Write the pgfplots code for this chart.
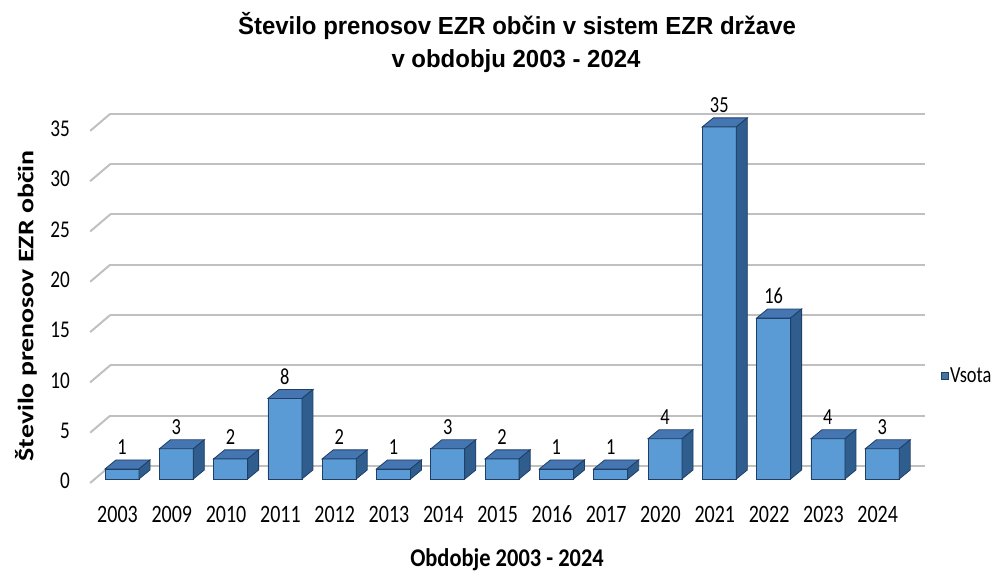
\documentclass[border=0pt]{standalone}
\usepackage{pgfplots}
\pgfplotsset{compat=1.18}
\usepackage{pgfplotstable}
\usepackage{fontspec}
\setmainfont{Carlito}[FakeStretch=0.8]
\newfontfamily\titlefont{Liberation Sans}[FakeStretch=0.97]
\newfontfamily\ylabfont{Carlito}[FakeStretch=1.25]
\newfontfamily\xlabfont{Carlito}[FakeStretch=0.88]

\definecolor{frontcol}{HTML}{5B9BD5}
\definecolor{topcol}{HTML}{4576B2}
\definecolor{sidecol}{HTML}{2F5E8E}
\definecolor{edgecol}{HTML}{1F3F66}
\definecolor{gridcol}{HTML}{C0C0C0}

% transfers per year
\pgfplotstableread{
idx year val
0  2003 1
1  2009 3
2  2010 2
3  2011 8
4  2012 2
5  2013 1
6  2014 3
7  2015 2
8  2016 1
9  2017 1
10 2020 4
11 2021 35
12 2022 16
13 2023 4
14 2024 3
}\datatable

% top and side faces of a 3d bar, drawn at the top front centre of the bar
\pgfdeclareplotmark{cubefaces}{%
  \pgfmathsetlengthmacro{\barh}{\rawy*10.06pt}%
  \pgfsetlinewidth{0.8pt}%
  \pgfsetstrokecolor{edgecol}%
  \pgfsetfillcolor{topcol}%
  \pgfpathmoveto{\pgfqpoint{-17pt}{0pt}}%
  \pgfpathlineto{\pgfqpoint{17pt}{0pt}}%
  \pgfpathlineto{\pgfqpoint{28pt}{9pt}}%
  \pgfpathlineto{\pgfqpoint{-6pt}{9pt}}%
  \pgfpathclose
  \pgfusepath{fill,stroke}%
  \pgfsetfillcolor{sidecol}%
  \pgfpathmoveto{\pgfqpoint{17pt}{0pt}}%
  \pgfpathlineto{\pgfqpoint{28pt}{9pt}}%
  \pgfpathlineto{\pgfpoint{28pt}{9pt-\barh}}%
  \pgfpathlineto{\pgfpoint{17pt}{-\barh}}%
  \pgfpathclose
  \pgfusepath{fill,stroke}%
}

\begin{document}
\begin{tikzpicture}
\path[use as bounding box] (0,0) rectangle (995pt,572pt);

\node[anchor=base, font=\titlefont\bfseries\fontsize{24.7pt}{30pt}\selectfont] at (517pt,537pt) {Število prenosov EZR občin v sistem EZR države};
\node[anchor=base, font=\titlefont\bfseries\fontsize{24.7pt}{30pt}\selectfont] at (516pt,504pt) {v obdobju 2003 - 2024};

\begin{axis}[
    at={(122pt,93pt)}, anchor=origin,
    x=54.3pt, y=10.06pt,
    xmin=-0.5, xmax=14.5,
    ymin=0, ymax=35,
    clip=false,
    axis line style={draw=none},
    major tick length=0pt,
    tick style={draw=none},
    xtick={0,...,14},
    xticklabels from table={\datatable}{year},
    ytick={0,5,...,35},
    /pgf/number format/assume math mode=true,
    xticklabel style={anchor=center, yshift=-35pt, xshift=-4.5pt, font=\fontsize{25pt}{30pt}\selectfont},
    yticklabel style={anchor=east, inner sep=0pt, xshift=-24.7pt, yshift=-2pt, font=\fontsize{24pt}{29pt}\selectfont},
    ymajorgrids,
    major grid style={draw=gridcol, line width=2pt, xshift=15.3pt, yshift=13pt},
    legend style={at={(axis description cs:1.038,0.293)}, anchor=west, draw=none, fill=none,
        inner sep=0pt, font=\fontsize{23pt}{27pt}\selectfont},
    legend image code/.code={\draw[fill=frontcol!75!black, draw=edgecol, line width=0.6pt] (0pt,-3.8pt) rectangle (7pt,3.8pt);},
]
\pgfplotsinvokeforeach{0,5,...,35}{
  \draw[gridcol, line width=2pt] (axis cs:-0.5,#1) ++(-4.7pt,-4pt) -- ++(20pt,17pt);
}
\addplot[ybar, bar width=34pt, bar shift=0pt, fill=frontcol, draw=edgecol, line width=0.8pt,
    nodes near coords,
    nodes near coords style={anchor=center, yshift=22pt, text=black, font=\fontsize{23pt}{27pt}\selectfont}]
    table[x=idx, y=val] {\datatable};
\addlegendentry{Vsota}
\addplot[only marks, mark=cubefaces, forget plot,
    visualization depends on={rawy \as \rawy}]
    table[x=idx, y=val] {\datatable};
\end{axis}

\node[rotate=90, font=\ylabfont\bfseries\fontsize{22.3pt}{27pt}\selectfont] at (26pt,266pt) {Število prenosov EZR občin};
\node[anchor=base, font=\xlabfont\bfseries\fontsize{25.5pt}{30pt}\selectfont] at (507pt,5pt) {Obdobje 2003 - 2024};
\end{tikzpicture}
\end{document}
